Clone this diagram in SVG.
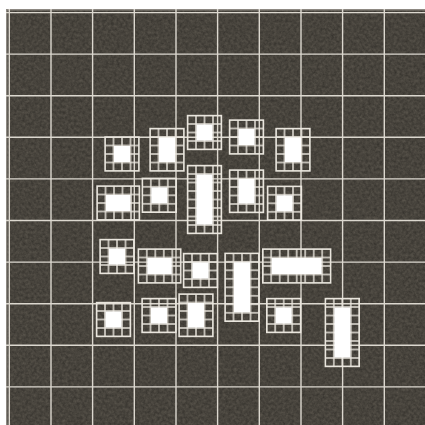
<svg xmlns="http://www.w3.org/2000/svg" width="425" height="425" viewBox="0 0 425 425">
  <defs>
    <filter id="noise" x="0" y="0" width="100%" height="100%">
      <feTurbulence type="fractalNoise" baseFrequency="0.35" numOctaves="3" seed="7" result="t"/>
      <feColorMatrix type="matrix" values="0 0 0 0 0  0 0 0 0 0  0 0 0 0 0  0.45 0 0 0 0" in="t"/>
    </filter>
    <pattern id="cells" width="8.5" height="8.5" patternUnits="userSpaceOnUse">
      <rect x="0" y="0" width="0.7" height="8.5" fill="#e9e5dd"/>
      <rect x="7.8" y="0" width="0.7" height="8.5" fill="#e9e5dd"/>
      <rect x="0" y="0" width="8.5" height="0.7" fill="#e9e5dd"/>
      <rect x="0" y="7.8" width="8.5" height="0.7" fill="#e9e5dd"/>
    </pattern>
  </defs>
  <style>
    .bg { fill: #5c574e; }
    .grid { stroke: #dcd8cf; stroke-width: 1.4; fill: none; }
    .cellfill { fill: url(#cells); }
    .frame { fill: none; stroke: #e9e5dd; stroke-width: 1.4; }
    .core { fill: #ffffff; }
  </style>

  <rect x="0" y="0" width="425" height="425" fill="#ffffff"/>
  <rect class="bg" x="6" y="9" width="425" height="420"/>
  <rect x="6" y="9" width="425" height="420" filter="url(#noise)"/>
  <path d="M6.7 430V9.7H430" fill="none" stroke="#8d8982" stroke-width="1.4"/>

  <g id="background-grid" class="grid">
    <path d="M9.3 9V425M51 9V425M92.6 9V425M134.3 9V425M176 9V425M217.6 9V425M259.3 9V425M301 9V425M342.6 9V425M384.3 9V425"/>
    <path d="M6 12.6H425M6 54.1H425M6 95.7H425M6 137.3H425M6 178.9H425M6 220.5H425M6 262.1H425M6 303.7H425M6 345.3H425M6 386.9H425"/>
  </g>

  <g id="box-a" transform="translate(105,137)">
    <rect class="cellfill" width="34" height="34"/><rect class="frame" width="34" height="34"/>
    <rect class="core" x="9" y="9" width="16" height="16"/>
  </g>
  <g id="box-b" transform="translate(150,128.5)">
    <rect class="cellfill" width="34" height="42.5"/><rect class="frame" width="34" height="42.5"/>
    <rect class="core" x="9" y="9" width="16" height="24.5"/>
  </g>
  <g id="box-c" transform="translate(187.5,115.5)">
    <rect class="cellfill" width="34" height="34"/><rect class="frame" width="34" height="34"/>
    <rect class="core" x="9" y="9" width="16" height="16"/>
  </g>
  <g id="box-d" transform="translate(229.5,120)">
    <rect class="cellfill" width="34" height="34"/><rect class="frame" width="34" height="34"/>
    <rect class="core" x="9" y="9" width="16" height="16"/>
  </g>
  <g id="box-e" transform="translate(276,128.5)">
    <rect class="cellfill" width="34" height="42.5"/><rect class="frame" width="34" height="42.5"/>
    <rect class="core" x="9" y="9" width="16" height="24.5"/>
  </g>
  <g id="box-f" transform="translate(97,186)">
    <rect class="cellfill" width="42.5" height="34"/><rect class="frame" width="42.5" height="34"/>
    <rect class="core" x="9" y="9" width="24.5" height="16"/>
  </g>
  <g id="box-g" transform="translate(142.3,178.3)">
    <rect class="cellfill" width="34" height="34"/><rect class="frame" width="34" height="34"/>
    <rect class="core" x="9" y="9" width="16" height="16"/>
  </g>
  <g id="box-h" transform="translate(187.5,165.5)">
    <rect class="cellfill" width="34" height="68"/><rect class="frame" width="34" height="68"/>
    <rect class="core" x="9" y="9" width="16" height="50"/>
  </g>
  <g id="box-i" transform="translate(229.5,170)">
    <rect class="cellfill" width="34" height="42.5"/><rect class="frame" width="34" height="42.5"/>
    <rect class="core" x="9" y="9" width="16" height="24.5"/>
  </g>
  <g id="box-j" transform="translate(267.5,186.3)">
    <rect class="cellfill" width="34" height="34"/><rect class="frame" width="34" height="34"/>
    <rect class="core" x="9" y="9" width="16" height="16"/>
  </g>
  <g id="box-k" transform="translate(100,239.5)">
    <rect class="cellfill" width="34" height="34"/><rect class="frame" width="34" height="34"/>
    <rect class="core" x="9" y="9" width="16" height="16"/>
  </g>
  <g id="box-l" transform="translate(138.3,249)">
    <rect class="cellfill" width="42.5" height="34"/><rect class="frame" width="42.5" height="34"/>
    <rect class="core" x="9" y="9" width="24.5" height="16"/>
  </g>
  <g id="box-m" transform="translate(183.5,253.5)">
    <rect class="cellfill" width="34" height="34"/><rect class="frame" width="34" height="34"/>
    <rect class="core" x="9" y="9" width="16" height="16"/>
  </g>
  <g id="box-n" transform="translate(225,253.3)">
    <rect class="cellfill" width="34" height="68"/><rect class="frame" width="34" height="68"/>
    <rect class="core" x="9" y="9" width="16" height="50"/>
  </g>
  <g id="box-o" transform="translate(262.7,249)">
    <rect class="cellfill" width="68" height="34"/><rect class="frame" width="68" height="34"/>
    <rect class="core" x="9" y="9" width="50" height="16"/>
  </g>
  <g id="box-p" transform="translate(96.5,302.5)">
    <rect class="cellfill" width="34" height="34"/><rect class="frame" width="34" height="34"/>
    <rect class="core" x="9" y="9" width="16" height="16"/>
  </g>
  <g id="box-q" transform="translate(142,298.5)">
    <rect class="cellfill" width="34" height="34"/><rect class="frame" width="34" height="34"/>
    <rect class="core" x="9" y="9" width="16" height="16"/>
  </g>
  <g id="box-r" transform="translate(179,294)">
    <rect class="cellfill" width="34" height="42.5"/><rect class="frame" width="34" height="42.5"/>
    <rect class="core" x="9" y="9" width="16" height="24.5"/>
  </g>
  <g id="box-s" transform="translate(266.7,298.5)">
    <rect class="cellfill" width="34" height="34"/><rect class="frame" width="34" height="34"/>
    <rect class="core" x="9" y="9" width="16" height="16"/>
  </g>
  <g id="box-t" transform="translate(325.3,298.5)">
    <rect class="cellfill" width="34" height="68"/><rect class="frame" width="34" height="68"/>
    <rect class="core" x="9" y="9" width="16" height="50"/>
  </g>
</svg>
